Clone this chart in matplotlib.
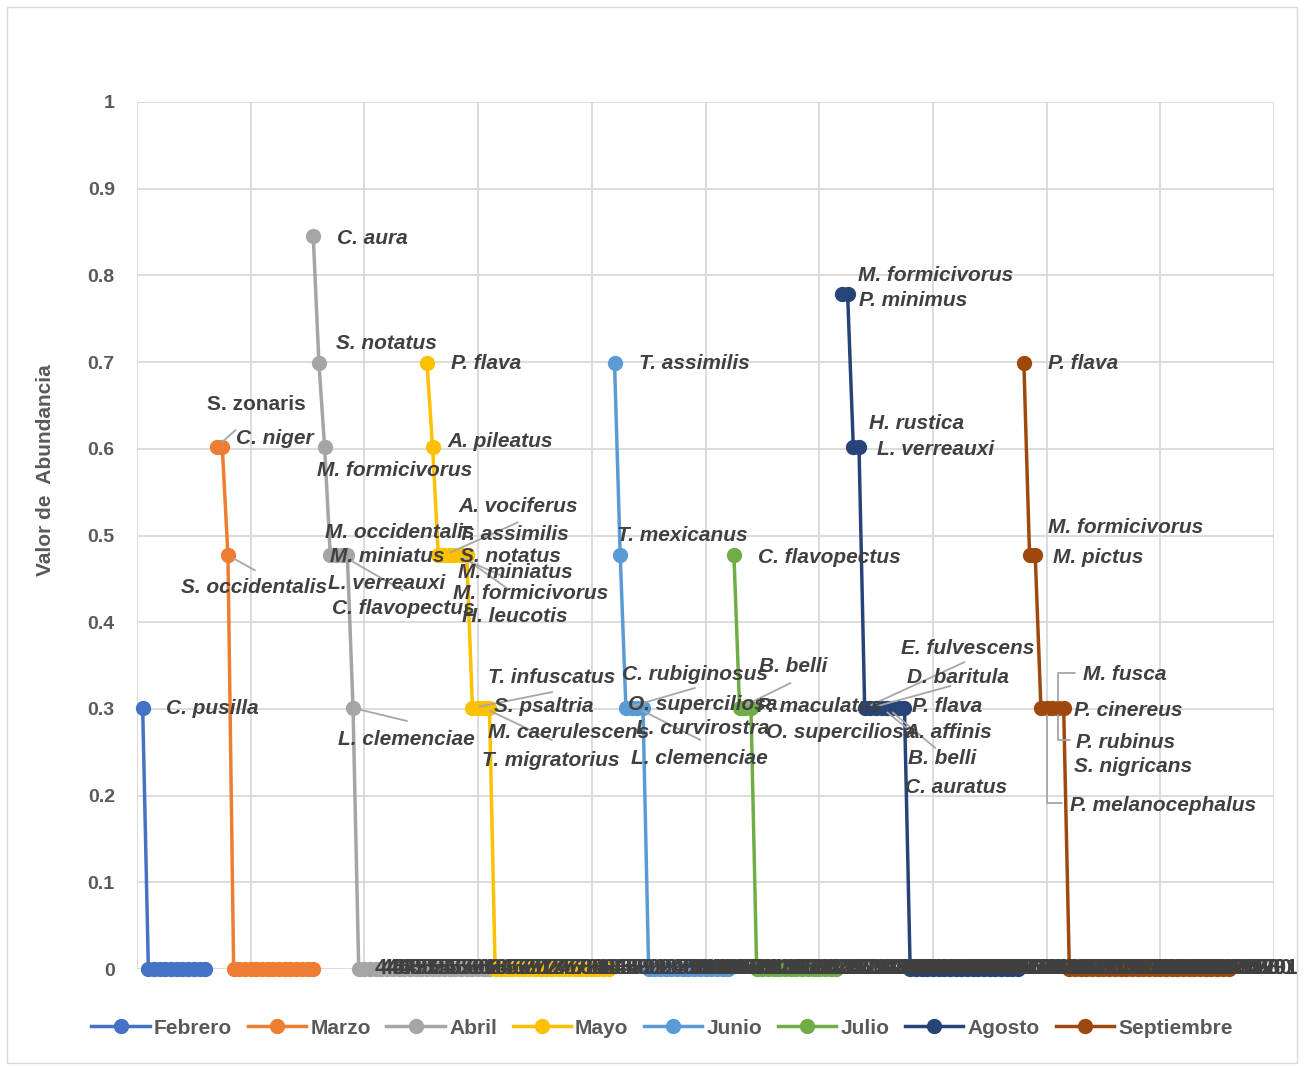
import numpy as np
import matplotlib.pyplot as plt
from matplotlib.patches import Rectangle

plt.rcParams['font.family'] = ['Liberation Sans', 'DejaVu Sans']

meses = ['Febrero', 'Marzo', 'Abril', 'Mayo', 'Junio', 'Julio', 'Agosto', 'Septiembre']
colores = ['#4472C4', '#ED7D31', '#A5A5A5', '#FFC000', '#5B9BD5', '#70AD47', '#264478', '#9E480E']

# rango en el que arranca cada mes sobre el eje x
inicio = [1, 14, 31, 51, 84, 105, 124, 156]

# especies con mas de un individuo (nombre, individuos) y numero de especies con un solo individuo
especies = {
    'Febrero': ['C. pusilla'],
    'Marzo': ['S. zonaris', 'C. niger', 'S. occidentalis'],
    'Abril': ['C. aura', 'S. notatus', 'M. formicivorus', 'M. occidentalis', 'M. miniatus',
              'L. verreauxi', 'C. flavopectus', 'L. clemenciae'],
    'Mayo': ['P. flava', 'A. pileatus', 'A. vociferus', 'T. assimilis', 'S. notatus', 'M. miniatus',
             'M. formicivorus', 'H. leucotis', 'T. infuscatus', 'S. psaltria', 'M. caerulescens',
             'T. migratorius'],
    'Junio': ['T. assimilis', 'T. mexicanus', 'C. rubiginosus', 'O. superciliosa', 'L. curvirostra',
              'L. clemenciae'],
    'Julio': ['C. flavopectus', 'B. belli', 'P. maculatus', 'O. superciliosa'],
    'Agosto': ['M. formicivorus', 'P. minimus', 'H. rustica', 'L. verreauxi', 'E. fulvescens',
               'D. baritula', 'P. flava', 'A. affinis', 'B. belli', 'C. auratus', '', ''],
    'Septiembre': ['P. flava', 'M. formicivorus', 'M. pictus', 'M. fusca', 'P. cinereus', 'P. rubinus',
                   'S. nigricans', 'P. melanocephalus'],
}
individuos = {
    'Febrero': [2],
    'Marzo': [4, 4, 3],
    'Abril': [7, 5, 4, 3, 3, 3, 3, 2],
    'Mayo': [5, 4, 3, 3, 3, 3, 3, 3, 2, 2, 2, 2],
    'Junio': [5, 3, 2, 2, 2, 2],
    'Julio': [3, 2, 2, 2],
    'Agosto': [6, 6, 4, 4, 2, 2, 2, 2, 2, 2, 2, 2],
    'Septiembre': [5, 3, 3, 2, 2, 2, 2, 2],
}
singletons = [11, 15, 24, 21, 15, 15, 20, 29]

# numeros de rango que quedan escritos sobre el eje
rangos = np.arange(44, 202)

# desplazamiento (px) de cada etiqueta respecto a su punto
pos_etiquetas = {
    'Febrero': [(23, 0)],
    'Marzo': [(-10, 43), (14, 9), (-47, -32)],
    'Abril': [(24, -2), (17, 19), (-8, -23), (-5, 23), (-6, -1), (-14, -28), (-15, -53), (-15, -31)],
    'Mayo': [(24, -1), (15, 6), (20, 49), (14, 21), (10, -1), (3, -17), (-8, -38), (-5, -61),
             (16, 31), (16, 2), (4, -24), (-7, -52)],
    'Junio': [(24, -1), (-3, 20), (-4, 34), (-4, 4), (-1, -20), (-12, -50)],
    'Julio': [(24, -2), (19, 42), (12, 2), (15, -24)],
    'Agosto': [(16, 19), (11, -6), (16, 24), (18, -2), (36, 60), (37, 31), (36, 2), (23, -24),
               (21, -50), (12, -79), None, None],
    'Septiembre': [(24, -1), (18, 28), (18, -2), (42, 34), (27, -2), (24, -34), (16, -58), (6, -97)],
}
# lineas guia: (mes, indice del punto, dx, dy, en codo)
guias = [
    ('Marzo', 0, 19, 17, False), ('Marzo', 2, 27, -15, False),
    ('Abril', 5, 61, -35, False), ('Abril', 7, 54, -13, False),
    ('Mayo', 3, 74, 33, False), ('Mayo', 5, 50, -22, False), ('Mayo', 6, 46, -33, False),
    ('Mayo', 8, 80, 16, False), ('Mayo', 10, 68, -32, False),
    ('Junio', 2, 69, 20, False), ('Junio', 4, 63, -32, False),
    ('Julio', 1, 51, 25, False),
    ('Agosto', 4, 100, 46, False), ('Agosto', 5, 80, 22, False), ('Agosto', 7, 25, -20, False),
    ('Agosto', 8, 48, -40, False),
    ('Septiembre', 6, 17, 35, True), ('Septiembre', 6, 12, -32, True), ('Septiembre', 4, 15, -95, True),
]

texto = '#404040'
gris = '#595959'

fig = plt.figure(figsize=(13.04, 10.66), dpi=100)
ax = fig.add_axes([137 / 1304, 1 - 969 / 1066, (1274 - 137) / 1304, (969 - 102) / 1066])

puntos = {}
for mes, color, x0, n1 in zip(meses, colores, inicio, singletons):
    cuentas = np.array(individuos[mes] + [1] * n1)
    x = x0 + np.arange(len(cuentas))
    y = np.log10(cuentas)
    puntos[mes] = (x, y)
    ax.plot(x, y, color=color, lw=2.5, marker='o', ms=10, label=mes, zorder=3, clip_on=False)

for mes in meses:
    x, y = puntos[mes]
    for i, (nombre, pos) in enumerate(zip(especies[mes], pos_etiquetas[mes])):
        if pos is None or nombre == '':
            continue
        estilo = 'normal' if (mes == 'Marzo' and nombre == 'S. zonaris') else 'italic'
        ax.annotate(nombre, (x[i], y[i]), xytext=pos, textcoords='offset pixels',
                    ha='left', va='center', fontsize=15, fontweight='bold', style=estilo,
                    color=texto, zorder=6, annotation_clip=False)

for mes, i, dx, dy, codo in guias:
    x, y = puntos[mes]
    props = dict(arrowstyle='-', color='#A6A6A6', lw=1.3, shrinkA=0, shrinkB=5)
    if codo:
        props['connectionstyle'] = 'angle,angleA=0,angleB=90,rad=0'
    ax.annotate('', (x[i], y[i]), xytext=(dx, dy), textcoords='offset pixels',
                arrowprops=props, zorder=5, annotation_clip=False)

# rangos escritos sobre la linea del cero
for r in rangos:
    ax.text(r, 0, str(r), ha='center', va='center', fontsize=16, fontweight='bold',
            color=texto, zorder=6, clip_on=False)

ax.set_xlim(0, 200)
ax.set_ylim(0, 1)
ax.set_xticks(np.arange(0, 201, 20))
ax.set_xticklabels([])
ax.set_yticks(np.arange(0, 1.01, 0.1))
ax.set_yticklabels(['0', '0.1', '0.2', '0.3', '0.4', '0.5', '0.6', '0.7', '0.8', '0.9', '1'],
                   fontsize=14, fontweight='bold', color=gris)
ax.tick_params(length=0, pad=16)
ax.grid(True, color='#D9D9D9', lw=1.3, zorder=0)
ax.set_axisbelow(True)
for s in ax.spines.values():
    s.set_visible(False)

fig.text(46 / 1304, 1 - 470 / 1066, 'Valor de  Abundancia', rotation=90, ha='center', va='center',
         fontsize=15, fontweight='bold', color=gris)

leg = fig.legend(loc='center', bbox_to_anchor=(662 / 1304, 1 - 1028 / 1066), ncol=8, frameon=False,
                 handlelength=2.8, handletextpad=0.2, columnspacing=0.75,
                 prop={'size': 15, 'weight': 'bold'})
for t in leg.get_texts():
    t.set_color(gris)

fig.patches.append(Rectangle((7 / 1304, 3 / 1066), 1290 / 1304, 1056 / 1066, transform=fig.transFigure,
                             fill=False, edgecolor='#D9D9D9', lw=1))

fig.savefig('out.png', dpi=100, facecolor='white')
